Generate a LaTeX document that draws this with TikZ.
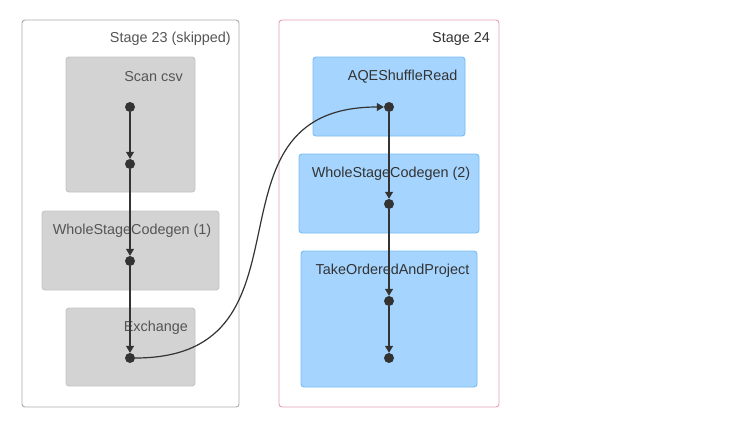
\documentclass[tikz,border=0pt]{standalone}
\usepackage{fontspec}
\setmainfont{Liberation Sans}
\usetikzlibrary{arrows.meta}
\definecolor{gfill}{RGB}{211,211,211}
\definecolor{gline}{RGB}{196,196,196}
\definecolor{bfill}{RGB}{165,213,254}
\definecolor{bline}{RGB}{120,188,245}
\definecolor{pinkline}{RGB}{232,160,176}
\definecolor{stgray}{RGB}{170,170,170}
\definecolor{ink}{RGB}{51,51,51}
\definecolor{skiptxt}{RGB}{85,85,85}
\tikzset{
  stagebox/.style={draw, line width=0.9pt, rounded corners=3pt, fill=white, inner sep=0pt},
  gbox/.style={draw=gline, fill=gfill, line width=0.9pt, rounded corners=3pt, inner sep=0pt},
  bbox/.style={draw=bline, fill=bfill, line width=0.9pt, rounded corners=3pt, inner sep=0pt},
  lbl/.style={anchor=base east, inner sep=0pt, font=\fontsize{14.4}{16}\selectfont},
  dotnode/.style={circle, fill=ink, inner sep=0pt, minimum size=10pt},
  edge/.style={draw=ink, line width=1.2pt, -{Triangle[length=7pt,width=8pt]}}
}
\begin{document}
\begin{tikzpicture}[x=1pt,y=-1pt]
\useasboundingbox[fill=white] (0,0) rectangle (735,428);
% stages
\node[stagebox, draw=stgray, minimum width=217pt, minimum height=387pt] (st23) at (130.5,213.5) {};
\node[stagebox, draw=pinkline, minimum width=220pt, minimum height=387pt] (st24) at (389,213.5) {};
\node[lbl, text=skiptxt] (st23l) at (231,43) {Stage 23 (skipped)};
\node[lbl, text=ink] (st24l) at (490,43) {Stage 24};
% left boxes
\node[gbox, minimum width=129pt, minimum height=135pt] (scan) at (130.5,124.5) {};
\node[gbox, minimum width=177pt, minimum height=79pt] (wsc1) at (130.5,250.5) {};
\node[gbox, minimum width=129pt, minimum height=78pt] (exch) at (130.5,347) {};
\node[lbl, text=skiptxt] (scanl) at (183,81) {Scan csv};
\node[lbl, text=skiptxt] (wsc1l) at (211.5,234) {WholeStageCodegen (1)};
\node[lbl, text=skiptxt] (exchl) at (188,331) {Exchange};
% right boxes
\node[bbox, minimum width=152pt, minimum height=79pt] (aqe) at (389,96.5) {};
\node[bbox, minimum width=180pt, minimum height=79pt] (wsc2) at (389,193.5) {};
\node[bbox, minimum width=176pt, minimum height=136pt] (top) at (389,319) {};
\node[lbl, text=ink] (aqel) at (457.5,80.5) {AQEShuffleRead};
\node[lbl, text=ink] (wsc2l) at (470.5,177.5) {WholeStageCodegen (2)};
\node[lbl, text=ink] (topl) at (469.5,274) {TakeOrderedAndProject};
% dots
\node[dotnode] (l1) at (130,107) {};
\node[dotnode] (l2) at (130,164) {};
\node[dotnode] (l3) at (130,261) {};
\node[dotnode] (l4) at (130,358) {};
\node[dotnode] (r1) at (389,107) {};
\node[dotnode] (r2) at (389,204) {};
\node[dotnode] (r3) at (389,301) {};
\node[dotnode] (r4) at (389,358) {};
% edges
\draw[edge] (l1) -- (l2);
\draw[edge] (l2) -- (l3);
\draw[edge] (l3) -- (l4);
\draw[edge] (l4) .. controls (327,358) and (192,107) .. (r1);
\draw[edge] (r1) -- (r2);
\draw[edge] (r2) -- (r3);
\draw[edge] (r3) -- (r4);
\end{tikzpicture}
\end{document}
